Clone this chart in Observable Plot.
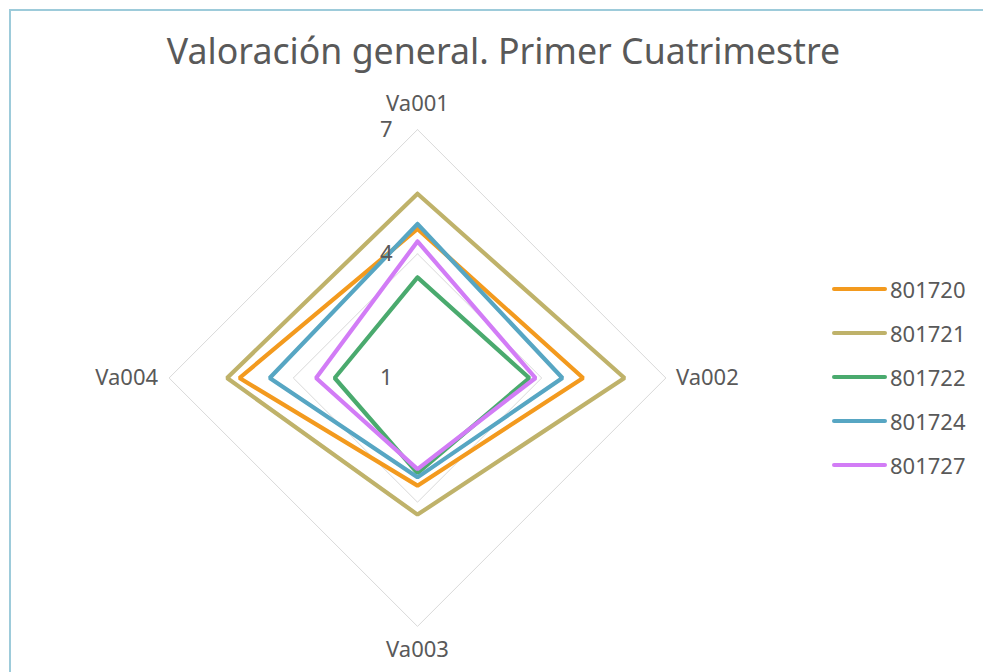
<!DOCTYPE html>
<html>
<head>
<meta charset="utf-8">
<script src="https://cdn.jsdelivr.net/npm/d3@7"></script>
<script src="https://cdn.jsdelivr.net/npm/@observablehq/plot@0.6"></script>
<style>
  html, body { margin: 0; padding: 0; background: #fff; }
  #wrap { position: relative; width: 983px; height: 672px; overflow: hidden;
          font-family: "Noto Sans", sans-serif; }
  #frame { position: absolute; left: 9px; top: 9px; width: 990px; height: 700px;
           border-left: 2px solid #9DCBDA; border-top: 2px solid #9DCBDA; box-sizing: border-box; }
  #chart { position: absolute; left: 0; top: 0; }
  #legend { position: absolute; left: 832px; top: 267px; }
  .item { display: flex; align-items: center; height: 44px; color: #595959; font-size: 22px; }
  .swatch { width: 55px; height: 4.5px; border-radius: 2.25px; margin-right: 3px; }
</style>
</head>
<body>
<div id="wrap">
  <div id="frame"></div>
  <div id="chart"></div>
  <div id="legend"></div>
</div>
<script>
// ---- data ----
const title = "Valoración general. Primer Cuatrimestre";
const categories = ["Va001", "Va002", "Va003", "Va004"];
const seriesNames = ["801720", "801721", "801722", "801724", "801727"];
const s801720 = [4.6, 5.0, 3.6, 5.3];
const s801721 = [5.45, 6.0, 4.3, 5.6];
const s801722 = [3.43, 3.7, 3.3, 3.0];
const s801724 = [4.72, 4.5, 3.4, 4.57];
const s801727 = [4.3, 3.85, 3.2, 3.45];
const tickValues = [1, 4, 7];
const colors = ["#F39A1E", "#BFB26A", "#4AAA6E", "#57A6C3", "#D27CF6"];

// ---- layout ----
const W = 983, H = 672;
const cx = 417, cy = 377.5, unit = 41.4;   // pixel centre, px per value unit
const vMin = 1, vMax = 7;

const seriesValues = [s801720, s801721, s801722, s801724, s801727];
const angle = i => (i / categories.length) * 2 * Math.PI;
const px = (v, i) => (v - vMin) * Math.sin(angle(i));
const py = (v, i) => (v - vMin) * Math.cos(angle(i));

const lineData = [];
seriesNames.forEach((name, s) => {
  const vals = seriesValues[s];
  for (let k = 0; k <= categories.length; k++) {
    const i = k % categories.length;
    lineData.push({series: name, x: px(vals[i], i), y: py(vals[i], i)});
  }
});

const gridData = [];
tickValues.filter(t => t > vMin).forEach(t => {
  for (let k = 0; k <= categories.length; k++) {
    const i = k % categories.length;
    gridData.push({t, x: px(t, i), y: py(t, i)});
  }
});

const labelData = categories.map((c, i) => ({c, i, x: px(vMax, i), y: py(vMax, i)}));
const font = {fontSize: 22, fill: "#595959"};

const plot = Plot.plot({
  width: W, height: H, margin: 0,
  style: {fontFamily: '"Noto Sans", sans-serif', background: "transparent"},
  x: {domain: [-cx / unit, (W - cx) / unit], axis: null},
  y: {domain: [-(H - cy) / unit, cy / unit], axis: null},
  color: {domain: seriesNames, range: colors},
  marks: [
    Plot.line(gridData, {x: "x", y: "y", z: "t", stroke: "#D9D9D9", strokeWidth: 1}),
    Plot.line(lineData, {x: "x", y: "y", z: "series", stroke: "series", strokeWidth: 4.2, strokeLinejoin: "miter"}),
    Plot.text(tickValues, {x: () => 0, y: t => t - vMin, text: d => String(d), textAnchor: "end", dx: -25, ...font}),
    Plot.text(labelData.filter(d => d.i === 0), {x: "x", y: "y", text: "c", dy: -26, ...font}),
    Plot.text(labelData.filter(d => d.i === 1), {x: "x", y: "y", text: "c", textAnchor: "start", dx: 10, ...font}),
    Plot.text(labelData.filter(d => d.i === 2), {x: "x", y: "y", text: "c", dy: 24, ...font}),
    Plot.text(labelData.filter(d => d.i === 3), {x: "x", y: "y", text: "c", textAnchor: "end", dx: -11, ...font}),
    Plot.text([title], {frameAnchor: "top-left", dx: 503, dy: 52, lineAnchor: "middle", text: d => d, textAnchor: "middle", fontSize: 35.7, fill: "#595959"})
  ]
});
document.getElementById("chart").appendChild(plot);

const legend = document.getElementById("legend");
seriesNames.forEach((name, s) => {
  const item = document.createElement("div");
  item.className = "item";
  const sw = document.createElement("div");
  sw.className = "swatch";
  sw.style.background = colors[s];
  const tx = document.createElement("span");
  tx.textContent = name;
  item.appendChild(sw);
  item.appendChild(tx);
  legend.appendChild(item);
});
</script>
</body>
</html>
